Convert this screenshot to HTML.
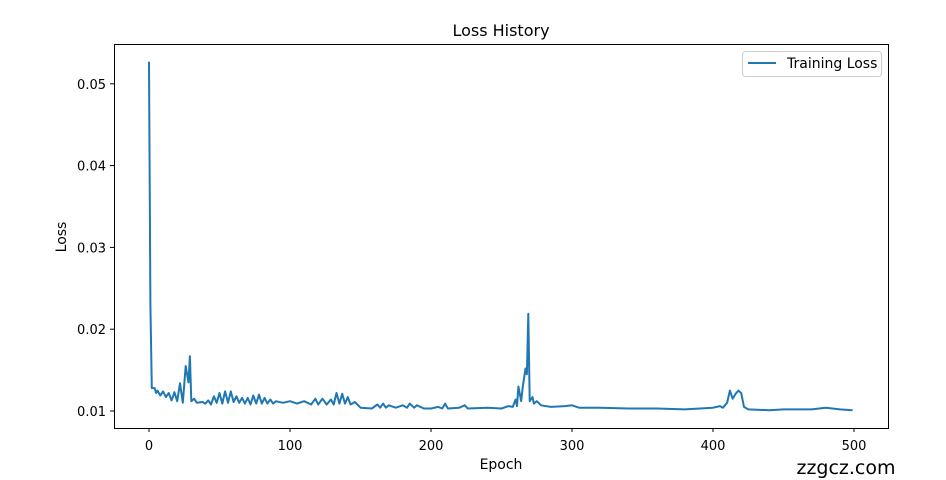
<!DOCTYPE html>
<html><head><meta charset="utf-8"><style>
html,body{margin:0;padding:0;background:#fff;}
svg{display:block;font-family:"DejaVu Sans","Liberation Sans",sans-serif;}
</style></head><body>
<svg id="s" width="946" height="480" xmlns="http://www.w3.org/2000/svg">
<rect width="946" height="480" fill="#fff"/>
<text x="501" y="36" font-size="16" text-anchor="middle" fill="#000">Loss History</text>
<polyline id="p" fill="none" stroke="#1f77b4" stroke-width="2" stroke-linejoin="round" points=""/>
<rect x="114.5" y="44.5" width="774" height="384" fill="none" stroke="#000" stroke-width="1"/>
<g id="xt" font-size="13" text-anchor="middle"></g>
<g id="yt" font-size="13" text-anchor="end"></g>
<text x="501" y="469" font-size="14" text-anchor="middle">Epoch</text>
<text transform="translate(66,237) rotate(-90)" font-size="14" text-anchor="middle">Loss</text>
<rect x="742.5" y="51.5" width="139" height="25" rx="3" fill="#fff" stroke="#ccc"/>
<line x1="748" y1="63" x2="776" y2="63" stroke="#1f77b4" stroke-width="2"/>
<text x="787" y="68" font-size="14">Training Loss</text>
<text x="846" y="474" font-size="19" text-anchor="middle">zzgcz.com</text>
</svg>
<script>
var d=[0,.0527,1,.023,2,.0128,4,.0128,5,.0122,6,.0125,8,.0119,10,.0124,12,.0117,14,.0122,16,.0113,18,.0123,20,.0112,22,.0134,24,.0110,26,.0155,28,.0135,29,.0167,30,.0112,32,.0115,34,.0110,38,.0111,40,.0109,42,.0113,44,.0108,46,.0118,48,.0110,50,.0122,52,.0109,54,.0124,56,.0110,58,.0124,60,.0111,62,.0118,64,.0110,66,.0116,68,.0109,70,.0116,72,.0108,74,.0119,76,.0109,78,.0120,80,.0109,82,.0116,84,.0109,86,.0114,88,.0109,90,.0112,95,.0110,100,.0112,105,.0109,110,.0112,115,.0108,118,.0115,120,.0108,123,.0115,126,.0108,129,.0114,131,.0108,133,.0122,135,.0109,137,.0121,139,.0109,141,.0117,143,.0108,146,.0111,150,.0104,158,.0103,162,.0108,164,.0104,166,.0109,168,.0104,170,.0107,175,.0104,180,.0107,183,.0104,185,.0109,188,.0104,190,.0107,195,.0103,200,.0103,205,.0105,208,.0103,210,.0109,212,.0103,220,.0104,224,.0107,226,.0103,240,.0104,250,.0103,255,.0106,258,.0105,260,.0114,261,.0106,262,.0130,264,.0112,265,.0128,267,.0152,268,.0145,269,.0219,270,.0112,272,.0117,273,.0109,275,.0112,278,.0107,285,.0105,295,.0106,300,.0107,305,.0104,320,.0104,340,.0103,360,.0103,380,.0102,400,.0104,405,.0106,407,.0104,410,.0110,412,.0125,414,.0115,416,.0121,418,.0125,420,.0122,422,.0105,425,.0102,440,.0101,450,.0102,470,.0102,480,.0104,490,.0102,499,.0101];
function X(e){return 149+1.41*e;}function Y(v){return 411-(v-0.01)*8180;}
var pts=[];for(var i=0;i<d.length;i+=2)pts.push(X(d[i]).toFixed(1)+","+Y(d[i+1]).toFixed(1));
document.getElementById("p").setAttribute("points",pts.join(" "));
var ns="http://www.w3.org/2000/svg",xt=document.getElementById("xt"),yt=document.getElementById("yt");
for(var e=0;e<=500;e+=100){var x=X(e);var l=document.createElementNS(ns,"line");l.setAttribute("x1",x);l.setAttribute("x2",x);l.setAttribute("y1",428);l.setAttribute("y2",432);l.setAttribute("stroke","#000");xt.appendChild(l);var t=document.createElementNS(ns,"text");t.setAttribute("x",x);t.setAttribute("y",450);t.textContent=e;xt.appendChild(t);}
for(var k=1;k<=5;k++){var y=Y(k/100);var l=document.createElementNS(ns,"line");l.setAttribute("x1",110);l.setAttribute("x2",114);l.setAttribute("y1",y);l.setAttribute("y2",y);l.setAttribute("stroke","#000");yt.appendChild(l);var t=document.createElementNS(ns,"text");t.setAttribute("x",106);t.setAttribute("y",y+5);t.textContent=(k/100).toFixed(2);yt.appendChild(t);}
</script>
</body></html>
